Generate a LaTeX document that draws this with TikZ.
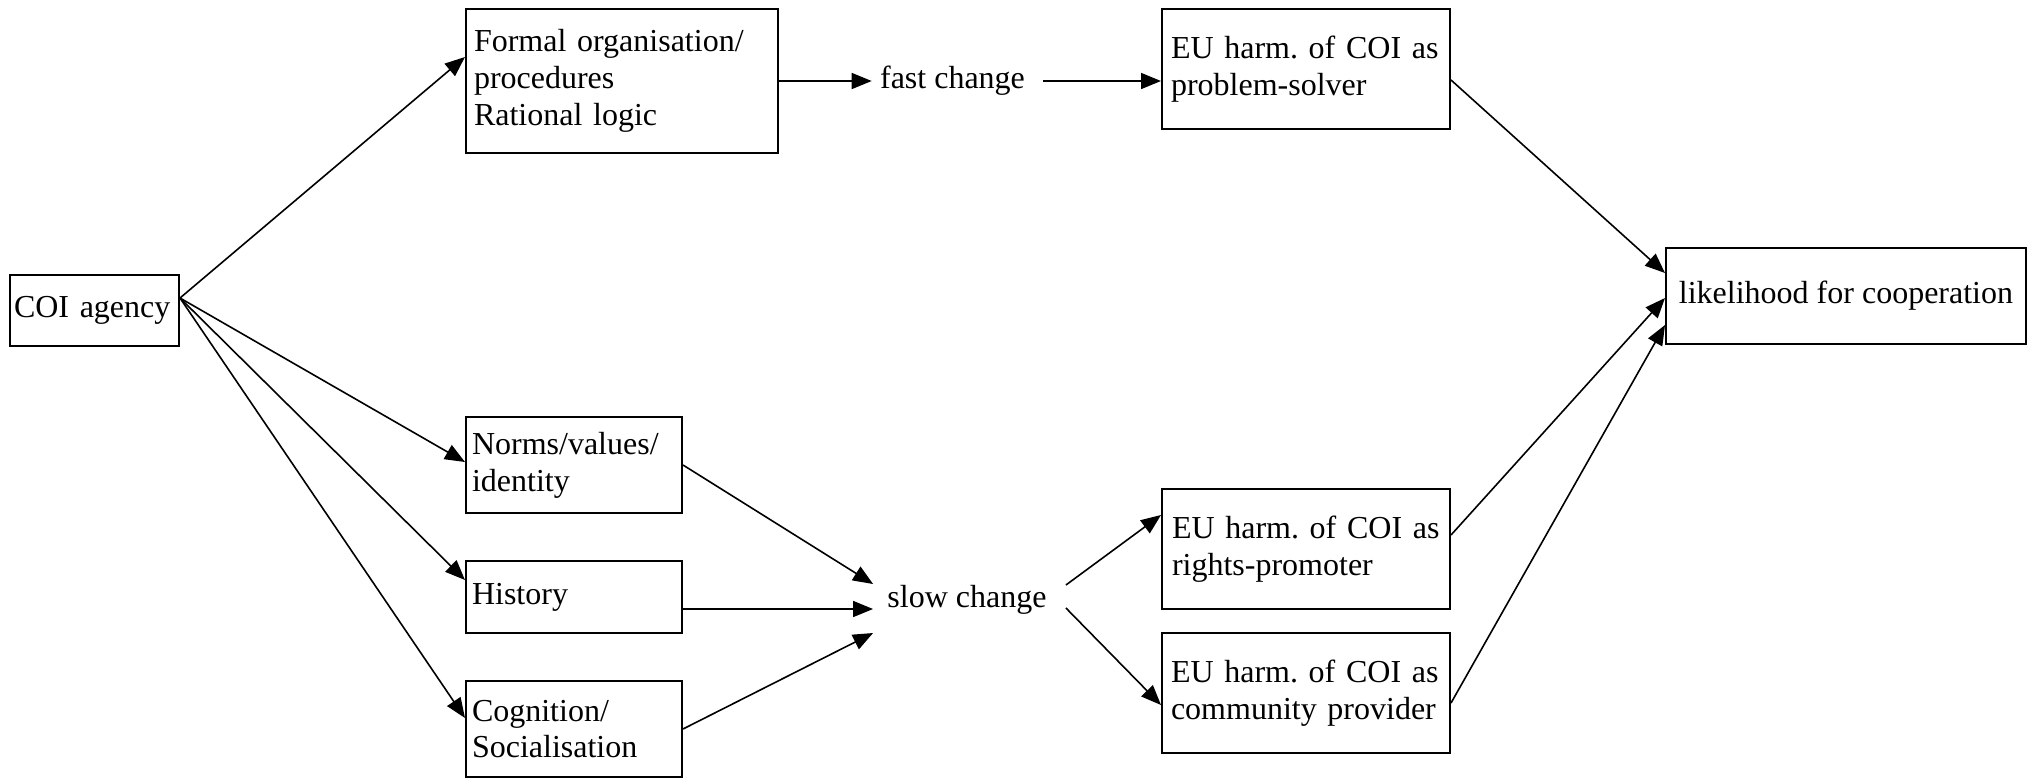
\documentclass[tikz,border=0pt]{standalone}
\usepackage{fontspec}
\setmainfont{Liberation Serif}
\usetikzlibrary{arrows.meta}

\begin{document}
\begin{tikzpicture}[x=0.5pt,y=-0.5pt]
\tikzstyle{every node}+=[font=\fontsize{16}{18.4}\selectfont\frenchspacing]
\tikzstyle{box}=[draw=black,line width=1pt,inner xsep=4pt,inner ysep=0pt,align=left]
\tikzstyle{word}=[inner xsep=4pt,inner ysep=0pt]
\tikzstyle{link}=[draw=black,line width=0.8pt,-{Triangle[length=10pt,width=8pt]}]
\useasboundingbox (0,0) rectangle (2040,778);
\node [box,inner xsep=2pt,text width=80.5pt,minimum height=35.5pt] (coi) at (94.5,310) {COI agency};
\node [box,text width=148pt,minimum height=72pt] (formal) at (622,81) {Formal organisation/\\procedures\\Rational logic};
\node [word] (fast) at (952.5,81) {fast change};
\node [box,inner xsep=4.5pt,text width=135pt,minimum height=60pt] (ps) at (1306,69) {EU harm. of COI as\\problem-solver};
\node [box,minimum width=180pt,minimum height=48pt] (likelihood) at (1846,296) {likelihood for cooperation};
\node [box,inner xsep=3pt,text width=102pt,minimum height=48pt] (norms) at (574,465) {Norms/values/\\identity};
\node [box,inner xsep=3pt,text width=102pt,minimum height=36pt] (history) at (574,597) {History};
\node [box,inner xsep=3pt,text width=102pt,minimum height=48pt] (cognition) at (574,729) {Cognition/\\Socialisation};
\node [word,inner xsep=7pt] (slow) at (967,600) {slow change};
\node [box,inner xsep=5pt,text width=134pt,minimum height=60pt] (rights) at (1306,549) {EU harm. of COI as\\rights-promoter};
\node [box,inner xsep=4.5pt,text width=135pt,minimum height=60pt] (community) at (1306,693) {EU harm. of COI as\\community provider};
\draw [link] ([yshift=6pt]coi.east) -- ([yshift=12pt]formal.west);
\draw [link] ([yshift=6pt]coi.east) -- ([yshift=1.5pt]norms.west);
\draw [link] ([yshift=6pt]coi.east) -- ([yshift=8.5pt]history.west);
\draw [link] ([yshift=6pt]coi.east) -- ([yshift=5.5pt]cognition.west);
\draw [link] (formal.east) -- (fast.west);
\draw [link] ([xshift=5pt]fast.east) -- ([yshift=-6pt]ps.west);
\draw [link] ([yshift=-5.5pt]ps.east) -- ([yshift=11.5pt]likelihood.west);
\draw [link] (norms.east) -- ([yshift=8pt]slow.west);
\draw [link] ([yshift=-6pt]history.east) -- ([yshift=-4.5pt]slow.west);
\draw [link] (cognition.east) -- ([yshift=-16.5pt]slow.west);
\draw [link] ([xshift=2.5pt,yshift=7.5pt]slow.east) -- ([yshift=17pt]rights.west);
\draw [link] ([xshift=2.5pt,yshift=-4pt]slow.east) -- ([yshift=-6pt]community.west);
\draw [link] ([yshift=7pt]rights.east) -- ([yshift=-1pt]likelihood.west);
\draw [link] ([yshift=-5pt]community.east) -- ([yshift=-14.5pt]likelihood.west);
\end{tikzpicture}
\end{document}
